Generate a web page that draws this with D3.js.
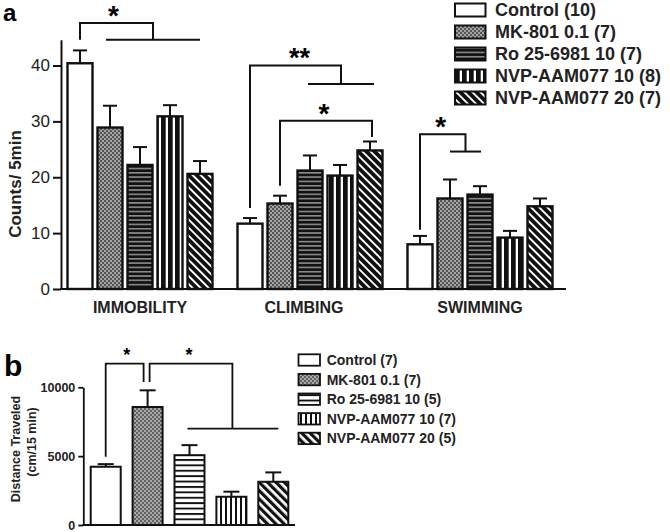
<!DOCTYPE html>
<html><head><meta charset="utf-8">
<script src="https://cdn.jsdelivr.net/npm/d3@7"></script>
<style>
html,body{margin:0;padding:0;background:#fff;}
text{font-family:"Liberation Sans",Arial,sans-serif;}
</style></head>
<body>
<svg id="chart" width="670" height="532"></svg>
<script>
// ---------- DATA ----------
const categoriesA = ["IMMOBILITY", "CLIMBING", "SWIMMING"];
const seriesA = ["Control (10)", "MK-801 0.1 (7)", "Ro 25-6981 10 (7)", "NVP-AAM077 10 (8)", "NVP-AAM077 20 (7)"];
const controlA = [40.4, 11.7, 8.0];
const mk801A   = [28.9, 15.3, 16.2];
const ro25A    = [22.2, 21.2, 16.9];
const nvp10A   = [30.9, 20.3, 9.2];
const nvp20A   = [20.6, 24.8, 14.8];
const controlSemA = [2.3, 1.0, 1.5];
const mk801SemA   = [3.9, 1.4, 3.4];
const ro25SemA    = [3.2, 2.7, 1.5];
const nvp10SemA   = [2.0, 1.9, 1.2];
const nvp20SemA   = [2.3, 1.6, 1.4];
const yTicksA = [0, 10, 20, 30, 40];

const seriesB = ["Control (7)", "MK-801 0.1 (7)", "Ro 25-6981 10 (5)", "NVP-AAM077 10 (7)", "NVP-AAM077 20 (5)"];
const meansB = [4230, 8570, 5070, 2050, 3140];
const semB   = [190, 1210, 730, 370, 680];
const yTicksB = [0, 5000, 10000];

const valuesA = [controlA, mk801A, ro25A, nvp10A, nvp20A];
const semsA = [controlSemA, mk801SemA, ro25SemA, nvp10SemA, nvp20SemA];

// ---------- SETUP ----------
const svg = d3.select("#chart");
const defs = svg.append("defs");

function stripes(id, w, h, bg, rects, transform){
  const p = defs.append("pattern").attr("id", id).attr("patternUnits","userSpaceOnUse")
    .attr("width", w).attr("height", h);
  if (transform) p.attr("patternTransform", transform);
  p.append("rect").attr("width", w).attr("height", h).attr("fill", bg);
  rects.forEach(r => p.append("rect").attr("x", r[0]).attr("y", r[1]).attr("width", r[2]).attr("height", r[3]).attr("fill", r[4]));
}
// Panel a patterns
stripes("mkA", 4, 4, "#a4a4a4", [[0,0,2,2,"#555"],[2,2,2,2,"#555"]]);
stripes("roA", 10, 4.3, "#111", [[0,0,10,1.6,"#8c8c8c"]]);
stripes("n10A", 7, 10, "#111", [[4.7,0,2.3,10,"#fff"]]);
stripes("n20A", 5.7, 10, "#111", [[0,0,1.9,10,"#fff"]], "rotate(-45)");
// Panel b patterns
stripes("mkB", 4, 4, "#a8a8a8", [[0,0,2,2,"#626262"],[2,2,2,2,"#626262"]]);
stripes("roB", 10, 5.4, "#fff", [[0,0,10,1.9,"#111"]]);
stripes("n10B", 5, 10, "#fff", [[0,0,2,10,"#111"]]);
stripes("n20B", 5.9, 10, "#fff", [[0,0,3.2,10,"#111"]], "rotate(-45)");

const fillsA = ["#fff","url(#mkA)","url(#roA)","url(#n10A)","url(#n20A)"];
const fillsB = ["#fff","url(#mkB)","url(#roB)","url(#n10B)","url(#n20B)"];

// ---------- PANEL A ----------
const gA = svg.append("g");
const yA = d3.scaleLinear().domain([0, 44.6]).range([289, 289 - 44.6*5.5875]);
const x0 = d3.scaleBand().domain(categoriesA).range([67.5, 552.5]).paddingInner(0.147);
const x1 = d3.scaleBand().domain(seriesA).range([0, x0.bandwidth()]).paddingInner(0.1667);
const cx = (cat, s) => x0(cat) + x1(s) + x1.bandwidth()/2;

const yAxisA = d3.axisLeft(yA).tickValues(yTicksA).tickSize(8).tickSizeOuter(0).tickPadding(3);
const gy = gA.append("g").attr("transform","translate(61,0)").call(yAxisA);
gy.selectAll("path,line").attr("stroke","#111").attr("stroke-width",2);
gy.selectAll("text").attr("font-size",17).attr("fill","#222");

gA.append("line").attr("x1",60).attr("x2",566).attr("y1",yA(0)).attr("y2",yA(0))
  .attr("stroke","#111").attr("stroke-width",2);

gA.selectAll("text.xl").data(categoriesA).join("text").attr("class","xl")
  .attr("x", d => x0(d) + x0.bandwidth()/2 + (d==="CLIMBING"?-6:0)).attr("y", 312.5)
  .attr("text-anchor","middle").attr("font-size",16).attr("font-weight","bold").attr("fill","#222")
  .text(d => d);

const barsA = [];
seriesA.forEach((s, si) => categoriesA.forEach((c, ci) =>
  barsA.push({s, si, c, v: valuesA[si][ci], e: semsA[si][ci]})));

const capA = 14;
gA.selectAll("line.errA").data(barsA).join("line").attr("class","errA")
  .attr("x1", d => cx(d.c,d.s)).attr("x2", d => cx(d.c,d.s))
  .attr("y1", d => yA(d.v)).attr("y2", d => yA(d.v + d.e))
  .attr("stroke","#111").attr("stroke-width",2);
gA.selectAll("line.capA").data(barsA).join("line").attr("class","capA")
  .attr("x1", d => cx(d.c,d.s) - capA/2).attr("x2", d => cx(d.c,d.s) + capA/2)
  .attr("y1", d => yA(d.v + d.e)).attr("y2", d => yA(d.v + d.e))
  .attr("stroke","#111").attr("stroke-width",2);
gA.selectAll("rect.barA").data(barsA).join("rect").attr("class","barA")
  .attr("x", d => x0(d.c) + x1(d.s)).attr("width", x1.bandwidth())
  .attr("y", d => yA(d.v)).attr("height", d => yA(0) - yA(d.v))
  .attr("fill", d => fillsA[d.si]).attr("stroke","#111").attr("stroke-width",2.4);

// brackets panel a (value units)
function bracket(g, pts, w){
  g.append("path").attr("d", d3.line()(pts)).attr("fill","none").attr("stroke","#111").attr("stroke-width",w);
}
const S = seriesA;
// immobility
{
  const l = cx("IMMOBILITY",S[0]), r0 = cx("IMMOBILITY",S[1]) - 4, r1 = cx("IMMOBILITY",S[4]);
  const rm = (r0 + r1)/2;
  bracket(gA, [[l,yA(44.6)],[l,yA(47.6)],[rm,yA(47.6)],[rm,yA(44.6)]], 2);
  bracket(gA, [[r0,yA(44.6)],[r1,yA(44.6)]], 2);
  gA.append("text").attr("x",(l+rm)/2 - 3).attr("y",yA(47.6)+2).attr("text-anchor","middle")
    .attr("font-size",28).attr("font-weight","bold").text("*");
}
// climbing **
{
  const l = cx("CLIMBING",S[0]), r0 = cx("CLIMBING",S[2]) - 2, r1 = cx("CLIMBING",S[4]) + 4;
  const rm = (r0 + r1)/2;
  bracket(gA, [[l,yA(14.5)],[l,yA(40.0)],[rm,yA(40.0)],[rm,yA(36.7)]], 2);
  bracket(gA, [[r0,yA(36.7)],[r1,yA(36.7)]], 2);
  gA.append("text").attr("x",(l+rm)/2 + 4).attr("y",yA(40.0)+1).attr("text-anchor","middle")
    .attr("font-size",27).attr("font-weight","bold").text("**");
}
// climbing *
{
  const l = cx("CLIMBING",S[1]), r = cx("CLIMBING",S[4]) + 2;
  bracket(gA, [[l,yA(18.5)],[l,yA(30.1)],[r,yA(30.1)],[r,yA(27.2)]], 2);
  gA.append("text").attr("x",(l+r)/2 - 2).attr("y",yA(30.1)+2).attr("text-anchor","middle")
    .attr("font-size",28).attr("font-weight","bold").text("*");
}
// swimming *
{
  const l = cx("SWIMMING",S[0]), r0 = cx("SWIMMING",S[1]), r1 = cx("SWIMMING",S[2]) + 1;
  const rm = (r0 + r1)/2;
  bracket(gA, [[l,yA(10.6)],[l,yA(27.7)],[rm,yA(27.7)],[rm,yA(24.6)]], 2);
  bracket(gA, [[r0,yA(24.6)],[r1,yA(24.6)]], 2);
  gA.append("text").attr("x",(l+rm)/2 - 2).attr("y",yA(27.7)+2).attr("text-anchor","middle")
    .attr("font-size",28).attr("font-weight","bold").text("*");
}

gA.append("text").attr("transform","translate(21,184) rotate(-90)").attr("text-anchor","middle")
  .attr("font-size",17).attr("font-weight","bold").attr("fill","#222").text("Counts/ 5min");
gA.append("text").attr("x",3).attr("y",21).attr("font-size",24).attr("font-weight","bold").text("a");

// legend a
const legA = gA.append("g");
seriesA.forEach((s, i) => {
  const yy = 10 + i*22;
  legA.append("rect").attr("x",455).attr("y",yy-6.5).attr("width",30.5).attr("height",13)
    .attr("fill",fillsA[i]).attr("stroke","#111").attr("stroke-width",2);
  legA.append("text").attr("x",495).attr("y",yy+6.3).attr("font-size",18).attr("font-weight","bold")
    .attr("fill","#222").text(s);
});

// ---------- PANEL B ----------
const gB = svg.append("g");
const yB = d3.scaleLinear().domain([0, 10000]).range([525, 387.3]);
const xB = d3.scaleBand().domain(seriesB).range([90.7, 288.3]).paddingInner(0.284);
const cB = s => xB(s) + xB.bandwidth()/2;

const yAxisB = d3.axisLeft(yB).tickValues(yTicksB).tickFormat(d3.format("d"))
  .tickSize(5).tickSizeOuter(0).tickPadding(3);
const gyB = gB.append("g").attr("transform","translate(83.3,0)").call(yAxisB);
gyB.selectAll("path,line").attr("stroke","#111").attr("stroke-width",1.8);
gyB.selectAll("text").attr("font-size",12.5).attr("font-weight","bold").attr("fill","#222");
gB.append("line").attr("x1",82.5).attr("x2",295).attr("y1",yB(0)).attr("y2",yB(0))
  .attr("stroke","#111").attr("stroke-width",2);

const barsB = seriesB.map((s,i) => ({s, i, v: meansB[i], e: semB[i]}));
const capB = 16;
gB.selectAll("line.errB").data(barsB).join("line").attr("class","errB")
  .attr("x1", d => cB(d.s)).attr("x2", d => cB(d.s))
  .attr("y1", d => yB(d.v)).attr("y2", d => yB(d.v + d.e))
  .attr("stroke","#111").attr("stroke-width",2);
gB.selectAll("line.capB").data(barsB).join("line").attr("class","capB")
  .attr("x1", d => cB(d.s) - capB/2).attr("x2", d => cB(d.s) + capB/2)
  .attr("y1", d => yB(d.v + d.e)).attr("y2", d => yB(d.v + d.e))
  .attr("stroke","#111").attr("stroke-width",2);
gB.selectAll("rect.barB").data(barsB).join("rect").attr("class","barB")
  .attr("x", d => xB(d.s)).attr("width", xB.bandwidth())
  .attr("y", d => yB(d.v)).attr("height", d => yB(0) - yB(d.v))
  .attr("fill", d => fillsB[d.i]).attr("stroke","#111").attr("stroke-width",2);

// brackets panel b
{
  const l = cB(seriesB[0]), r = cB(seriesB[1]) - 4;
  bracket(gB, [[l,yB(4950)],[l,yB(11720)],[r,yB(11720)],[r,yB(10390)]], 1.8);
  gB.append("text").attr("x",(l+r)/2 + 2).attr("y",yB(11720)-3).attr("text-anchor","middle")
    .attr("font-size",18).attr("font-weight","bold").text("*");
  const l2 = cB(seriesB[1]) + 2, r2 = cB(seriesB[3]) + 1;
  bracket(gB, [[l2,yB(10390)],[l2,yB(11720)],[r2,yB(11720)],[r2,yB(7000)]], 1.8);
  bracket(gB, [[cB(seriesB[2]) - 2, yB(7000)],[cB(seriesB[4]) + 5, yB(7000)]], 1.8);
  gB.append("text").attr("x",189).attr("y",yB(11720)-3).attr("text-anchor","middle")
    .attr("font-size",18).attr("font-weight","bold").text("*");
}

gB.append("text").attr("transform","translate(19.5,449) rotate(-90)").attr("text-anchor","middle")
  .attr("font-size",12.5).attr("font-weight","bold").attr("fill","#222").text("Distance Traveled");
gB.append("text").attr("transform","translate(36,442) rotate(-90)").attr("text-anchor","middle")
  .attr("font-size",12.5).attr("font-weight","bold").attr("fill","#222").text("(cm/15 min)");
gB.append("text").attr("x",4).attr("y",376).attr("font-size",30).attr("font-weight","bold").text("b");

const legB = gB.append("g");
seriesB.forEach((s, i) => {
  const yy = 360 + i*19.6;
  legB.append("rect").attr("x",298.5).attr("y",yy-5.7).attr("width",21.5).attr("height",11.4)
    .attr("fill",fillsB[i]).attr("stroke","#111").attr("stroke-width",1.8);
  legB.append("text").attr("x",326.7).attr("y",yy+5).attr("font-size",14).attr("font-weight","bold")
    .attr("fill","#222").text(s);
});
</script>
</body></html>
